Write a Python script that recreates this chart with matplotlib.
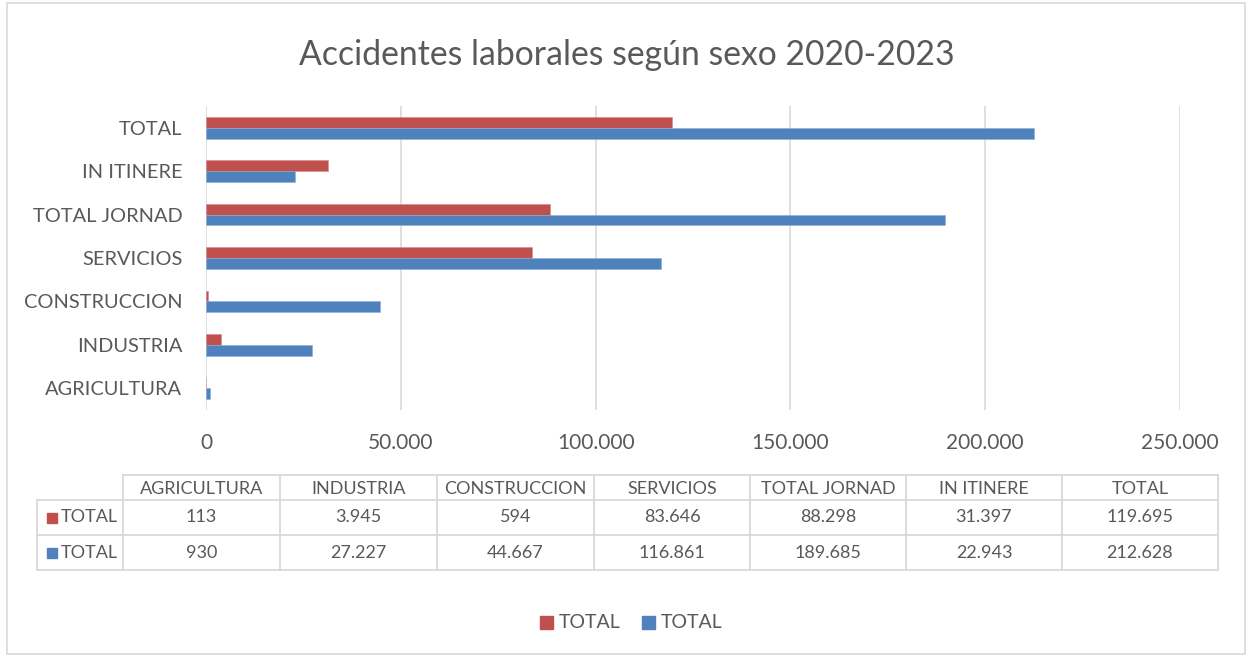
import numpy as np
import matplotlib.pyplot as plt
from matplotlib.patches import Rectangle
from matplotlib.lines import Line2D

# data
categories = ['AGRICULTURA', 'INDUSTRIA', 'CONSTRUCCION', 'SERVICIOS',
              'TOTAL JORNAD', 'IN ITINERE', 'TOTAL']
mujeres = [113, 3945, 594, 83646, 88298, 31397, 119695]
hombres = [930, 27227, 44667, 116861, 189685, 22943, 212628]
series_names = ['TOTAL', 'TOTAL']
xticks = [0, 50000, 100000, 150000, 200000, 250000]

RED = '#C0504D'
BLUE = '#4F81BD'
TXT = '#595959'
GRID = '#D9D9D9'

plt.rcParams['font.family'] = ['Lato', 'DejaVu Sans']

W, H = 1254, 657
fig = plt.figure(figsize=(W / 100, H / 100), dpi=100)


def fx(px):
    return px / W


def fy(py):
    return 1 - py / H


# outer border of the chart
fig.patches.append(Rectangle((fx(7), fy(654)), fx(1245) - fx(7), fy(3) - fy(654),
                             transform=fig.transFigure, fill=False,
                             edgecolor=GRID, linewidth=1.2))

fig.text(0.5, fy(55), 'Accidentes laborales según sexo 2020-2023',
         ha='center', va='center', fontsize=24.3, color=TXT)

ax = fig.add_axes([fx(206), fy(410), fx(1180) - fx(206), fy(106) - fy(410)])
y = np.arange(len(categories))
h = 0.25
ax.barh(y + h / 2, mujeres, height=h, color=RED, edgecolor='#D88A88', linewidth=0.4)
ax.barh(y - h / 2, hombres, height=h, color=BLUE, edgecolor='#8AAEDA', linewidth=0.4)

ax.set_xlim(0, 250000)
ax.set_ylim(-0.5, len(categories) - 0.5)
ax.set_xticks(xticks)
ax.set_xticklabels([f'{v:,}'.replace(',', '.') for v in xticks])
ax.set_yticks(y)
ax.set_yticklabels(categories)
ax.tick_params(axis='x', length=0, pad=16.5, labelsize=15, labelcolor=TXT)
ax.tick_params(axis='y', length=0, pad=17, labelsize=14.4, labelcolor=TXT)
ax.grid(axis='x', color=GRID, linewidth=1.2)
ax.set_axisbelow(True)
for s in ax.spines.values():
    s.set_visible(False)

# data table under the chart
col_edges = [37, 123, 280, 437, 594, 750, 906, 1062, 1218]
row_edges = [475, 500, 535, 570]
lw = 1.3
# horizontal lines
fig.add_artist(Line2D([fx(col_edges[1]), fx(col_edges[-1])], [fy(row_edges[0])] * 2,
                      transform=fig.transFigure, color=GRID, linewidth=lw))
for r in row_edges[1:]:
    fig.add_artist(Line2D([fx(col_edges[0]), fx(col_edges[-1])], [fy(r)] * 2,
                          transform=fig.transFigure, color=GRID, linewidth=lw))
# vertical lines
fig.add_artist(Line2D([fx(col_edges[0])] * 2, [fy(row_edges[1]), fy(row_edges[-1])],
                      transform=fig.transFigure, color=GRID, linewidth=lw))
for c in col_edges[1:]:
    fig.add_artist(Line2D([fx(c)] * 2, [fy(row_edges[0]), fy(row_edges[-1])],
                          transform=fig.transFigure, color=GRID, linewidth=lw))

def fmt(v):
    return f'{v:,}'.replace(',', '.')

for i, cat in enumerate(categories):
    cx = (col_edges[i + 1] + col_edges[i + 2]) / 2
    fig.text(fx(cx), fy((row_edges[0] + row_edges[1]) / 2 + 1), cat,
             ha='center', va='center', fontsize=13, color=TXT)
    fig.text(fx(cx), fy((row_edges[1] + row_edges[2]) / 2), fmt(mujeres[i]),
             ha='center', va='center', fontsize=13, color=TXT)
    fig.text(fx(cx), fy((row_edges[2] + row_edges[3]) / 2), fmt(hombres[i]),
             ha='center', va='center', fontsize=13, color=TXT)

for k, (name, col) in enumerate(zip(series_names, [RED, BLUE])):
    ry = (row_edges[1 + k] + row_edges[2 + k]) / 2
    fig.patches.append(Rectangle((fx(47), fy(ry + 5)), fx(10), fy(0) - fy(10),
                                 transform=fig.transFigure, color=col))
    fig.text(fx(61), fy(ry), name, ha='left', va='center', fontsize=13, color=TXT)

# legend
for k, (name, col, x0) in enumerate(zip(series_names, [RED, BLUE], [540, 642])):
    fig.patches.append(Rectangle((fx(x0), fy(629)), fx(13), fy(0) - fy(13),
                                 transform=fig.transFigure, color=col))
    fig.text(fx(x0 + 19), fy(622), name, ha='left', va='center', fontsize=14, color=TXT)

fig.savefig('out.png', dpi=100)
